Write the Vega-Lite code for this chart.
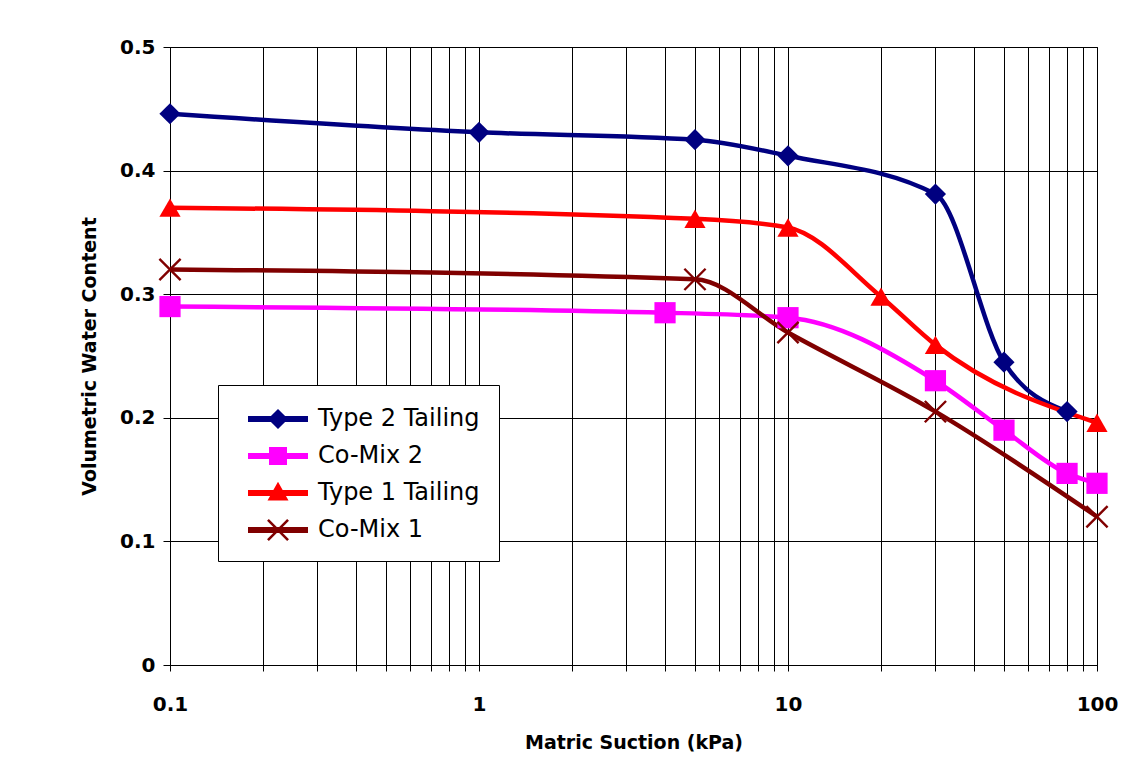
{
  "$schema": "https://vega.github.io/schema/vega-lite/v6.json",
  "width": 927,
  "height": 618,
  "autosize": {"type": "none"},
  "padding": {"left": 170, "top": 47, "right": 26, "bottom": 98},
  "background": "white",
  "data": {
    "values": [
      {"series": "Type 2 Tailing", "suction": 0.1, "theta": 0.446},
      {"series": "Type 2 Tailing", "suction": 1, "theta": 0.431},
      {"series": "Type 2 Tailing", "suction": 5, "theta": 0.425},
      {"series": "Type 2 Tailing", "suction": 10, "theta": 0.412},
      {"series": "Type 2 Tailing", "suction": 30, "theta": 0.381},
      {"series": "Type 2 Tailing", "suction": 50, "theta": 0.245},
      {"series": "Type 2 Tailing", "suction": 80, "theta": 0.205},
      {"series": "Co-Mix 2", "suction": 0.1, "theta": 0.290},
      {"series": "Co-Mix 2", "suction": 4, "theta": 0.285},
      {"series": "Co-Mix 2", "suction": 10, "theta": 0.281},
      {"series": "Co-Mix 2", "suction": 30, "theta": 0.230},
      {"series": "Co-Mix 2", "suction": 50, "theta": 0.190},
      {"series": "Co-Mix 2", "suction": 80, "theta": 0.155},
      {"series": "Co-Mix 2", "suction": 100, "theta": 0.147},
      {"series": "Type 1 Tailing", "suction": 0.1, "theta": 0.370},
      {"series": "Type 1 Tailing", "suction": 5, "theta": 0.361},
      {"series": "Type 1 Tailing", "suction": 10, "theta": 0.354},
      {"series": "Type 1 Tailing", "suction": 20, "theta": 0.298},
      {"series": "Type 1 Tailing", "suction": 30, "theta": 0.259},
      {"series": "Type 1 Tailing", "suction": 100, "theta": 0.196},
      {"series": "Co-Mix 1", "suction": 0.1, "theta": 0.320},
      {"series": "Co-Mix 1", "suction": 5, "theta": 0.312},
      {"series": "Co-Mix 1", "suction": 10, "theta": 0.269},
      {"series": "Co-Mix 1", "suction": 30, "theta": 0.205},
      {"series": "Co-Mix 1", "suction": 100, "theta": 0.120}
    ]
  },
  "encoding": {
    "x": {
      "field": "suction",
      "type": "quantitative",
      "title": "Matric Suction (kPa)",
      "scale": {"type": "log", "domain": [0.1, 100]},
      "axis": {
        "values": [0.1, 0.2, 0.3, 0.4, 0.5, 0.6, 0.7, 0.8, 0.9, 1, 2, 3, 4, 5, 6, 7, 8, 9, 10, 20, 30, 40, 50, 60, 70, 80, 90, 100],
        "format": "~g",
        "labelExpr": "(datum.value == 0.1 || datum.value == 1 || datum.value == 10 || datum.value == 100) ? datum.label : ''",
        "labelOverlap": false,
        "labelFlush": false,
        "tickSize": 6,
        "labelPadding": 23,
        "titlePadding": 19
      }
    },
    "y": {
      "field": "theta",
      "type": "quantitative",
      "title": "Volumetric Water Content",
      "scale": {"domain": [0, 0.5], "nice": false, "zero": true},
      "axis": {
        "values": [0, 0.1, 0.2, 0.3, 0.4, 0.5],
        "format": "~g",
        "tickSize": 7,
        "labelPadding": 8,
        "titlePadding": 20
      }
    }
  },
  "layer": [
    {
      "mark": {"type": "line", "interpolate": "monotone", "strokeWidth": 4.5},
      "encoding": {
        "color": {
          "field": "series",
          "type": "nominal",
          "scale": {"domain": ["Type 2 Tailing", "Co-Mix 2", "Type 1 Tailing", "Co-Mix 1"], "range": ["#000080", "#ff00ff", "#ff0000", "#800000"]},
          "legend": null
        }
      }
    },
    {
      "mark": {"type": "point", "filled": true, "size": 1, "opacity": 1, "strokeWidth": 0},
      "encoding": {
        "color": {
          "field": "series",
          "type": "nominal",
          "scale": {"domain": ["Type 2 Tailing", "Co-Mix 2", "Type 1 Tailing", "Co-Mix 1"], "range": ["#000080", "#ff00ff", "#ff0000", "#800000"]},
          "legend": {
            "title": null, "orient": "none", "legendX": 48, "legendY": 338,
            "symbolSize": 900, "symbolOffset": 26, "padding": 19, "labelOffset": 25, "rowPadding": 10,
            "labelFont": "DejaVu Sans", "labelFontSize": 24, "labelColor": "black",
            "fillColor": "white", "strokeColor": "black", "symbolStrokeWidth": 0, "labelLimit": 400, "symbolOpacity": 1
          }
        },
        "shape": {
          "field": "series",
          "type": "nominal",
          "scale": {
            "domain": ["Type 2 Tailing", "Co-Mix 2", "Type 1 Tailing", "Co-Mix 1"],
            "range": [
              "M-2,-0.2H-0.47L0,-0.67L0.47,-0.2H2V0.2H0.47L0,0.67L-0.47,0.2H-2Z",
              "M-2,-0.2H-0.6V-0.6H0.6V-0.2H2V0.2H0.6V0.6H-0.6V0.2H-2Z",
              "M-2,-0.2H-0.31L0,-0.75L0.31,-0.2H2V0.2H0.53L0.7,0.5H-0.7L-0.53,0.2H-2Z",
              "M-2,-0.2H2V0.2H-2ZM-0.61,-0.73L0.73,0.61L0.61,0.73L-0.73,-0.61ZM0.61,-0.73L0.73,-0.61L-0.61,0.73L-0.73,0.61Z"
            ]
          },
          "legend": {
            "title": null, "orient": "none", "legendX": 48, "legendY": 338,
            "symbolSize": 900, "symbolOffset": 26, "padding": 19, "labelOffset": 25, "rowPadding": 10,
            "labelFont": "DejaVu Sans", "labelFontSize": 24, "labelColor": "black",
            "fillColor": "white", "strokeColor": "black", "symbolStrokeWidth": 0, "labelLimit": 400, "symbolOpacity": 1
          }
        }
      }
    },
    {
      "mark": {"type": "point", "filled": true, "size": 450, "opacity": 1},
      "encoding": {
        "color": {
          "field": "series",
          "type": "nominal",
          "scale": {"domain": ["Type 2 Tailing", "Co-Mix 2", "Type 1 Tailing", "Co-Mix 1"], "range": ["#000080", "#ff00ff", "#ff0000", "#800000"]},
          "legend": null
        },
        "shape": {
          "field": "series",
          "type": "nominal",
          "scale": {
            "domain": ["Type 2 Tailing", "Co-Mix 2", "Type 1 Tailing", "Co-Mix 1"],
            "range": ["diamond", "square", "triangle-up", "M-0.92,-1.08L1.08,0.92L0.92,1.08L-1.08,-0.92ZM0.92,-1.08L1.08,-0.92L-0.92,1.08L-1.08,0.92Z"]
          },
          "legend": null
        }
      }
    }
  ],
  "resolve": {"scale": {"color": "independent", "shape": "independent"}},
  "config": {
    "view": {"stroke": "black"},
    "axis": {
      "domainColor": "black",
      "tickColor": "black",
      "gridColor": "black",
      "gridOpacity": 1,
      "gridWidth": 1,
      "labelFont": "DejaVu Sans",
      "labelFontWeight": "bold",
      "labelFontSize": 20,
      "labelColor": "black",
      "titleFont": "DejaVu Sans",
      "titleFontWeight": "bold",
      "titleFontSize": 19,
      "titleColor": "black"
    }
  }
}
